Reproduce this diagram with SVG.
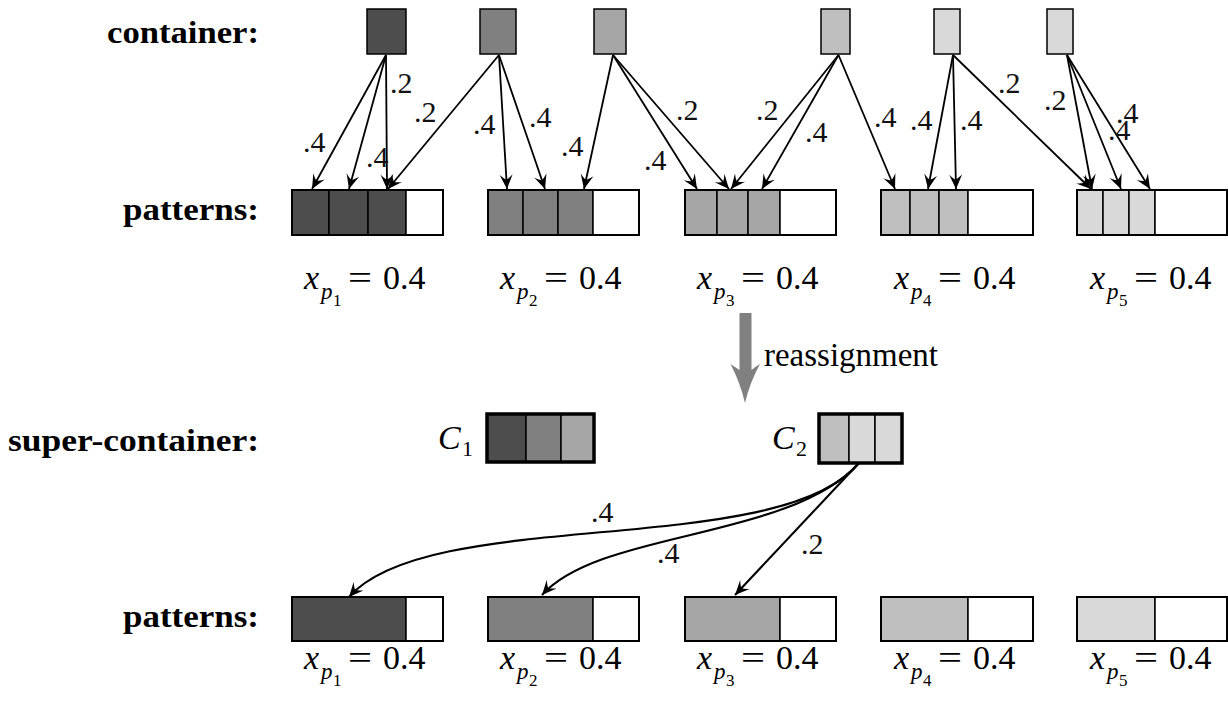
<svg xmlns="http://www.w3.org/2000/svg" width="1228" height="707" viewBox="0 0 1228 707">
<style>
.hd{font-family:"Liberation Serif",serif;font-weight:bold;font-size:32px;text-anchor:end;fill:#000}
.lb{font-family:"Liberation Serif",serif;font-size:30px;fill:#111}
.m{font-family:"Liberation Serif",serif;font-size:34px;fill:#000}
.it{font-style:italic}
.cell{stroke:#000;stroke-width:1.5}
.box{fill:none;stroke:#000;stroke-width:2}
.sbox{fill:none;stroke:#000;stroke-width:3.5}
.k1{fill:#4d4d4d}.k2{fill:#808080}.k3{fill:#a6a6a6}.k4{fill:#bfbfbf}.k5{fill:#d9d9d9}.w{fill:#fff}
.ar{fill:none;stroke:#000;stroke-width:1.8;marker-end:url(#st)}
.ar2{fill:none;stroke:#000;stroke-width:2.1;marker-end:url(#st)}
</style>
<defs>
<marker id="st" viewBox="-15 -7 16 14" refX="0" refY="0" markerWidth="16" markerHeight="14" markerUnits="userSpaceOnUse" orient="auto">
<path d="M0,0 L-14.5,-6.5 Q-10,-2 -9.5,0 Q-10,2 -14.5,6.5 Z" fill="#000"/>
</marker>
</defs>
<rect width="1228" height="707" fill="#fff"/>

<g id="row-labels">
<text class="hd" x="259" y="43" textLength="152" lengthAdjust="spacingAndGlyphs">container:</text>
<text class="hd" x="259" y="220" textLength="136" lengthAdjust="spacingAndGlyphs">patterns:</text>
<text class="hd" x="259" y="451" textLength="251" lengthAdjust="spacingAndGlyphs">super-container:</text>
<text class="hd" x="259" y="627" textLength="136" lengthAdjust="spacingAndGlyphs">patterns:</text>
</g>

<g id="c1"><rect class="cell k1" x="367" y="9" width="39" height="45"/></g>
<g id="c2"><rect class="cell k2" x="480" y="9" width="36" height="45"/></g>
<g id="c3"><rect class="cell k3" x="594" y="9" width="32" height="45"/></g>
<g id="c4"><rect class="cell k4" x="821" y="9" width="29" height="45"/></g>
<g id="c5"><rect class="cell k5" x="934" y="9" width="26" height="45"/></g>
<g id="c6"><rect class="cell k5" x="1047" y="9" width="26" height="45"/></g>

<g id="p1">
<rect class="cell k1" x="292" y="190" width="37" height="45"/><rect class="cell k1" x="329" y="190" width="39" height="45"/><rect class="cell k1" x="368" y="190" width="38" height="45"/><rect class="cell w" x="406" y="190" width="37" height="45"/><rect class="box" x="292" y="190" width="151" height="45"/>
</g>
<g id="p2">
<rect class="cell k2" x="488" y="190" width="35" height="45"/><rect class="cell k2" x="523" y="190" width="35" height="45"/><rect class="cell k2" x="558" y="190" width="35" height="45"/><rect class="cell w" x="593" y="190" width="46" height="45"/><rect class="box" x="488" y="190" width="151" height="45"/>
</g>
<g id="p3">
<rect class="cell k3" x="685" y="190" width="32" height="45"/><rect class="cell k3" x="717" y="190" width="31" height="45"/><rect class="cell k3" x="748" y="190" width="32" height="45"/><rect class="cell w" x="780" y="190" width="56" height="45"/><rect class="box" x="685" y="190" width="151" height="45"/>
</g>
<g id="p4">
<rect class="cell k4" x="881" y="190" width="29" height="45"/><rect class="cell k4" x="910" y="190" width="29" height="45"/><rect class="cell k4" x="939" y="190" width="29" height="45"/><rect class="cell w" x="968" y="190" width="65" height="45"/><rect class="box" x="881" y="190" width="152" height="45"/>
</g>
<g id="p5">
<rect class="cell k5" x="1077" y="190" width="26" height="45"/><rect class="cell k5" x="1103" y="190" width="26" height="45"/><rect class="cell k5" x="1129" y="190" width="26" height="45"/><rect class="cell w" x="1155" y="190" width="72" height="45"/><rect class="box" x="1077" y="190" width="150" height="45"/>
</g>

<g id="xlabels-top" class="m">
<text><tspan class="it" x="304" y="289">x</tspan><tspan class="it" x="321" y="299" font-size="23">p</tspan><tspan x="333" y="306" font-size="17">1</tspan><tspan x="348" y="289" textLength="24" lengthAdjust="spacingAndGlyphs">=</tspan><tspan x="383" y="289">0.4</tspan></text>
<text><tspan class="it" x="500" y="289">x</tspan><tspan class="it" x="517" y="299" font-size="23">p</tspan><tspan x="529" y="306" font-size="17">2</tspan><tspan x="544" y="289" textLength="24" lengthAdjust="spacingAndGlyphs">=</tspan><tspan x="579" y="289">0.4</tspan></text>
<text><tspan class="it" x="697" y="289">x</tspan><tspan class="it" x="714" y="299" font-size="23">p</tspan><tspan x="726" y="306" font-size="17">3</tspan><tspan x="741" y="289" textLength="24" lengthAdjust="spacingAndGlyphs">=</tspan><tspan x="776" y="289">0.4</tspan></text>
<text><tspan class="it" x="894" y="289">x</tspan><tspan class="it" x="911" y="299" font-size="23">p</tspan><tspan x="923" y="306" font-size="17">4</tspan><tspan x="938" y="289" textLength="24" lengthAdjust="spacingAndGlyphs">=</tspan><tspan x="973" y="289">0.4</tspan></text>
<text><tspan class="it" x="1090" y="289">x</tspan><tspan class="it" x="1107" y="299" font-size="23">p</tspan><tspan x="1119" y="306" font-size="17">5</tspan><tspan x="1134" y="289" textLength="24" lengthAdjust="spacingAndGlyphs">=</tspan><tspan x="1169" y="289">0.4</tspan></text>
</g>

<g id="reassign">
<path d="M739.5,313 H751.5 V370 Q755,367 760,364 Q750,382 745,403 Q740,382 730.5,364 Q735,367 739.5,370 Z" fill="#808080"/>
<text class="m" x="764" y="366" textLength="174" lengthAdjust="spacingAndGlyphs">reassignment</text>
</g>

<g id="C1">
<text class="m"><tspan class="it" x="438" y="449">C</tspan><tspan x="462" y="456" font-size="22">1</tspan></text>
<rect class="cell k1" x="487" y="414" width="39" height="48"/><rect class="cell k2" x="526" y="414" width="35" height="48"/><rect class="cell k3" x="561" y="414" width="33" height="48"/><rect class="sbox" x="487" y="414" width="107" height="48"/>
</g>
<g id="C2">
<text class="m"><tspan class="it" x="772" y="449">C</tspan><tspan x="796" y="456" font-size="22">2</tspan></text>
<rect class="cell k4" x="819" y="414" width="30" height="49"/><rect class="cell k5" x="849" y="414" width="26" height="49"/><rect class="cell k5" x="875" y="414" width="27" height="49"/><rect class="sbox" x="819" y="414" width="83" height="49"/>
</g>

<g id="q1"><rect class="cell k1" x="292" y="597" width="114" height="44"/><rect class="cell w" x="406" y="597" width="37" height="44"/><rect class="box" x="292" y="597" width="151" height="44"/></g>
<g id="q2"><rect class="cell k2" x="488" y="597" width="105" height="44"/><rect class="cell w" x="593" y="597" width="46" height="44"/><rect class="box" x="488" y="597" width="151" height="44"/></g>
<g id="q3"><rect class="cell k3" x="685" y="597" width="95" height="44"/><rect class="cell w" x="780" y="597" width="56" height="44"/><rect class="box" x="685" y="597" width="151" height="44"/></g>
<g id="q4"><rect class="cell k4" x="881" y="597" width="87" height="44"/><rect class="cell w" x="968" y="597" width="65" height="44"/><rect class="box" x="881" y="597" width="152" height="44"/></g>
<g id="q5"><rect class="cell k5" x="1077" y="597" width="78" height="44"/><rect class="cell w" x="1155" y="597" width="72" height="44"/><rect class="box" x="1077" y="597" width="150" height="44"/></g>

<g id="xlabels-bottom" class="m">
<text><tspan class="it" x="304" y="669">x</tspan><tspan class="it" x="321" y="679" font-size="23">p</tspan><tspan x="333" y="686" font-size="17">1</tspan><tspan x="348" y="669" textLength="24" lengthAdjust="spacingAndGlyphs">=</tspan><tspan x="383" y="669">0.4</tspan></text>
<text><tspan class="it" x="500" y="669">x</tspan><tspan class="it" x="517" y="679" font-size="23">p</tspan><tspan x="529" y="686" font-size="17">2</tspan><tspan x="544" y="669" textLength="24" lengthAdjust="spacingAndGlyphs">=</tspan><tspan x="579" y="669">0.4</tspan></text>
<text><tspan class="it" x="697" y="669">x</tspan><tspan class="it" x="714" y="679" font-size="23">p</tspan><tspan x="726" y="686" font-size="17">3</tspan><tspan x="741" y="669" textLength="24" lengthAdjust="spacingAndGlyphs">=</tspan><tspan x="776" y="669">0.4</tspan></text>
<text><tspan class="it" x="894" y="669">x</tspan><tspan class="it" x="911" y="679" font-size="23">p</tspan><tspan x="923" y="686" font-size="17">4</tspan><tspan x="938" y="669" textLength="24" lengthAdjust="spacingAndGlyphs">=</tspan><tspan x="973" y="669">0.4</tspan></text>
<text><tspan class="it" x="1090" y="669">x</tspan><tspan class="it" x="1107" y="679" font-size="23">p</tspan><tspan x="1119" y="686" font-size="17">5</tspan><tspan x="1134" y="669" textLength="24" lengthAdjust="spacingAndGlyphs">=</tspan><tspan x="1169" y="669">0.4</tspan></text>
</g>

<g id="connectors">
<path class="ar" d="M386,55 L312,189"/>
<path class="ar" d="M386,55 L349,189"/>
<path class="ar" d="M386,55 L387,189"/>
<path class="ar" d="M499,55 L388,189"/>
<path class="ar" d="M499,55 L507,189"/>
<path class="ar" d="M499,55 L545,189"/>
<path class="ar" d="M613,55 L584,189"/>
<path class="ar" d="M613,55 L697,189"/>
<path class="ar" d="M613,55 L729,189"/>
<path class="ar" d="M838.5,55 L731,189"/>
<path class="ar" d="M838.5,55 L762,189"/>
<path class="ar" d="M838.5,55 L895,189"/>
<path class="ar" d="M953,55 L928,189"/>
<path class="ar" d="M953,55 L956,189"/>
<path class="ar" d="M953,55 L1091,189"/>
<path class="ar" d="M1067,55 L1092,189"/>
<path class="ar" d="M1067,55 L1121,189"/>
<path class="ar" d="M1067,55 L1150,189"/>
<path class="ar2" d="M859,463 C780,560 430,505 349,597"/>
<path class="ar2" d="M859,463 C790,540 600,530 542,595"/>
<path class="ar2" d="M859,463 L735,595"/>
</g>

<g id="edge-labels" class="lb">
<text x="303" y="152">.4</text>
<text x="390" y="93">.2</text>
<text x="366" y="167">.4</text>
<text x="414" y="122">.2</text>
<text x="473" y="134">.4</text>
<text x="529" y="127">.4</text>
<text x="561" y="156">.4</text>
<text x="644" y="170">.4</text>
<text x="676" y="120">.2</text>
<text x="756" y="120">.2</text>
<text x="805" y="142">.4</text>
<text x="874" y="127">.4</text>
<text x="910" y="130">.4</text>
<text x="960" y="130">.4</text>
<text x="998" y="93">.2</text>
<text x="1044" y="110">.2</text>
<text x="1108" y="140">.4</text>
<text x="1116" y="123">.4</text>
<text x="591" y="522">.4</text>
<text x="657" y="563">.4</text>
<text x="801" y="554">.2</text>
</g>
</svg>
